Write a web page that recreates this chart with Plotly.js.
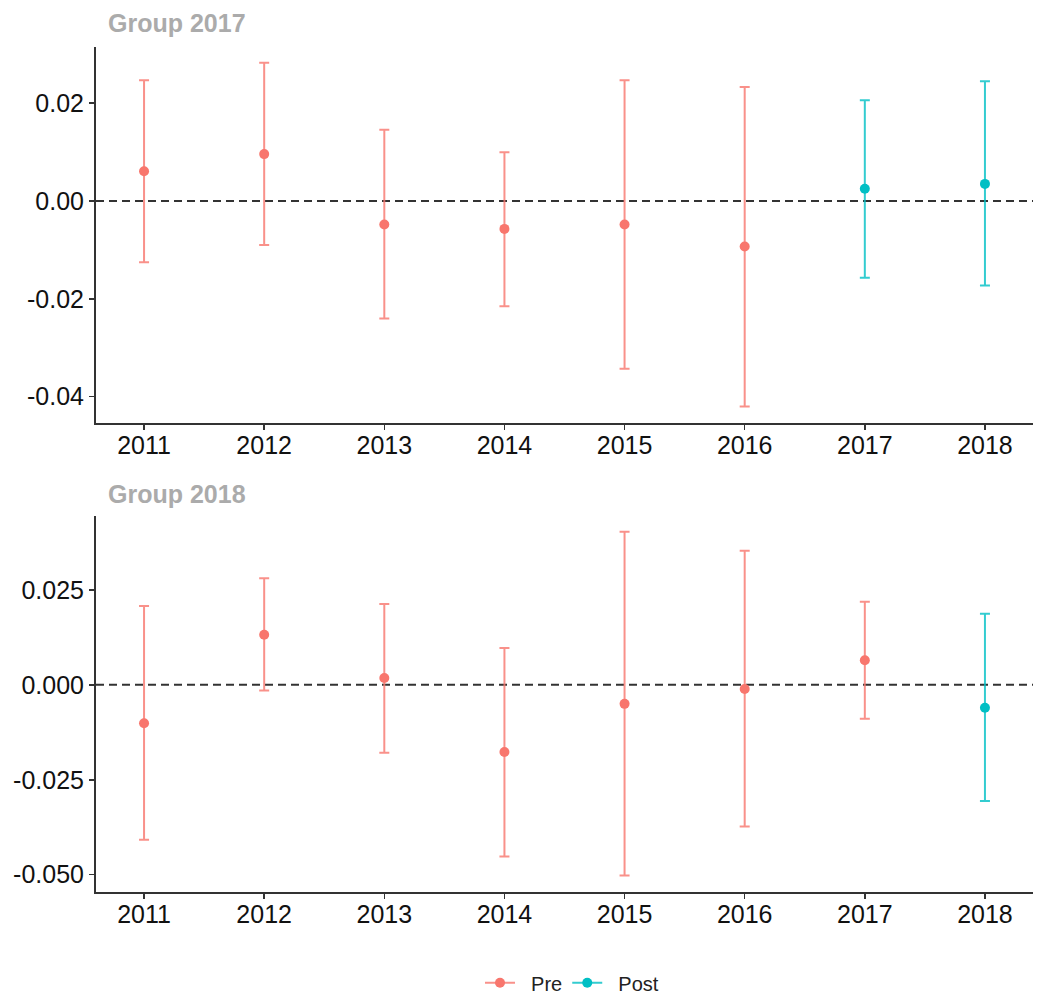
<!DOCTYPE html>
<html>
<head>
<meta charset="utf-8">
<script src="https://cdn.plot.ly/plotly-3.0.1.min.js"></script>
<style>
  html, body { margin: 0; padding: 0; background: #fff; }
  #chart { width: 1050px; height: 1007px; }
</style>
</head>
<body>
<div id="chart"></div>
<script>
// ========== Data ==========
const years = [2011, 2012, 2013, 2014, 2015, 2016, 2017, 2018];

// Group 2017 estimates and confidence bounds
const est2017 = [0.0061, 0.0096, -0.0048, -0.0057, -0.0048, -0.0093, 0.0025, 0.0035];
const lo2017  = [-0.0125, -0.0090, -0.0240, -0.0215, -0.0343, -0.0420, -0.0157, -0.0173];
const hi2017  = [0.0247, 0.0283, 0.0146, 0.0100, 0.0247, 0.0233, 0.0206, 0.0245];
const period2017 = ['Pre', 'Pre', 'Pre', 'Pre', 'Pre', 'Pre', 'Post', 'Post'];

// Group 2018 estimates and confidence bounds
const est2018 = [-0.0101, 0.0132, 0.0018, -0.0177, -0.0050, -0.0011, 0.0065, -0.0060];
const lo2018  = [-0.0408, -0.0015, -0.0179, -0.0452, -0.0502, -0.0373, -0.0089, -0.0306];
const hi2018  = [0.0208, 0.0281, 0.0213, 0.0097, 0.0403, 0.0353, 0.0219, 0.0187];
const period2018 = ['Pre', 'Pre', 'Pre', 'Pre', 'Pre', 'Pre', 'Pre', 'Post'];

const periods = ['Pre', 'Post'];
const groupTitles = ['Group 2017', 'Group 2018'];

const yTicks2017 = [-0.04, -0.02, 0, 0.02];
const yLabels2017 = ['-0.04', '-0.02', '0.00', '0.02'];
const yTicks2018 = [-0.05, -0.025, 0, 0.025];
const yLabels2018 = ['-0.050', '-0.025', '0.000', '0.025'];

// ========== Styles ==========
const colors = { Pre: '#F8766D', Post: '#00BFC4' };
const barColors = { Pre: 'rgba(248,118,109,0.8)', Post: 'rgba(0,191,196,0.8)' };
const fontFam = 'Liberation Sans, Arial, sans-serif';

// Build the point + errorbar traces for one panel
function panelTraces(est, lo, hi, period, xa, ya) {
  return periods.map(p => {
    const idx = years.map((_, i) => i).filter(i => period[i] === p);
    return {
      type: 'scatter',
      mode: 'markers',
      x: idx.map(i => years[i]),
      y: idx.map(i => est[i]),
      xaxis: xa,
      yaxis: ya,
      showlegend: false,
      marker: { color: colors[p], size: 10 },
      error_y: {
        type: 'data',
        symmetric: false,
        array: idx.map(i => hi[i] - est[i]),
        arrayminus: idx.map(i => est[i] - lo[i]),
        color: barColors[p],
        thickness: 2,
        width: 5
      },
      hoverinfo: 'x+y'
    };
  });
}

const traces = [
  ...panelTraces(est2017, lo2017, hi2017, period2017, 'x', 'y'),
  ...panelTraces(est2018, lo2018, hi2018, period2018, 'x2', 'y2')
];

// legend-only entries (line + point key like ggplot)
periods.forEach(p => {
  traces.push({
    type: 'scatter',
    mode: 'lines+markers',
    x: [null],
    y: [null],
    name: '\u00a0\u00a0' + p,
    line: { color: barColors[p], width: 2 },
    marker: { color: colors[p], size: 10 },
    showlegend: true
  });
});

const xAxisBase = {
  range: [2010.6, 2018.4],
  tickvals: years,
  ticktext: years.map(String),
  showgrid: false,
  zeroline: false,
  showline: true,
  linecolor: '#333333',
  linewidth: 2,
  ticks: 'outside',
  ticklen: 5,
  tickwidth: 1.5,
  tickcolor: '#333333',
  ticklabelstandoff: -6,
  tickfont: { family: fontFam, size: 25, color: '#111' }
};

const yAxisBase = {
  showgrid: false,
  zeroline: false,
  showline: true,
  linecolor: '#333333',
  linewidth: 2,
  ticks: 'outside',
  ticklen: 5,
  tickwidth: 1.5,
  tickcolor: '#333333',
  tickfont: { family: fontFam, size: 25, color: '#111' }
};

const layout = {
  width: 1050,
  height: 1007,
  paper_bgcolor: '#fff',
  plot_bgcolor: '#fff',
  margin: { l: 96, r: 17, t: 47, b: 115 },
  showlegend: true,
  legend: {
    orientation: 'h',
    xref: 'paper',
    x: 0.508,
    xanchor: 'center',
    yref: 'container',
    y: 0.024,
    yanchor: 'middle',
    font: { family: fontFam, size: 20, color: '#222' }
  },
  xaxis: { ...xAxisBase, domain: [0, 1], anchor: 'y' },
  yaxis: {
    ...yAxisBase,
    domain: [0.555, 1],
    anchor: 'x',
    range: [-0.0454, 0.0315],
    tickvals: yTicks2017,
    ticktext: yLabels2017
  },
  xaxis2: { ...xAxisBase, domain: [0, 1], anchor: 'y2' },
  yaxis2: {
    ...yAxisBase,
    domain: [0, 0.4453],
    anchor: 'x2',
    range: [-0.05455, 0.04455],
    tickvals: yTicks2018,
    ticktext: yLabels2018
  },
  shapes: [
    { type: 'line', xref: 'x domain', yref: 'y', x0: 0, x1: 1, y0: 0, y1: 0,
      line: { color: '#333333', width: 2, dash: '8px,5px' }, layer: 'below' },
    { type: 'line', xref: 'x2 domain', yref: 'y2', x0: 0, x1: 1, y0: 0, y1: 0,
      line: { color: '#333333', width: 2, dash: '8px,5px' }, layer: 'below' }
  ],
  annotations: [
    { text: '<b>' + groupTitles[0] + '</b>', xref: 'paper', yref: 'paper',
      x: 0.011, y: 1.028, xanchor: 'left', yanchor: 'middle', showarrow: false,
      font: { family: fontFam, size: 25, color: '#ABABAB' } },
    { text: '<b>' + groupTitles[1] + '</b>', xref: 'paper', yref: 'paper',
      x: 0.011, y: 0.471, xanchor: 'left', yanchor: 'middle', showarrow: false,
      font: { family: fontFam, size: 25, color: '#ABABAB' } }
  ]
};

Plotly.newPlot('chart', traces, layout, { displayModeBar: false, staticPlot: true });
</script>
</body>
</html>
